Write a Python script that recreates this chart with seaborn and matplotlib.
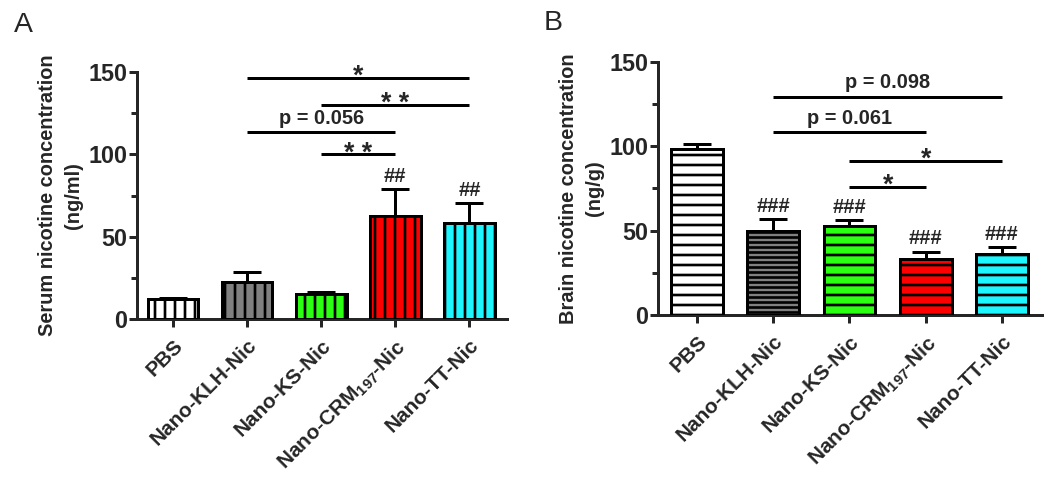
import numpy as np
import pandas as pd
import matplotlib
matplotlib.use("Agg")
import matplotlib.pyplot as plt
import seaborn as sns

sns.set_style("ticks")
plt.rcParams['font.family'] = ['Liberation Sans', 'DejaVu Sans']
plt.rcParams['mathtext.fontset'] = 'custom'
plt.rcParams['mathtext.rm'] = 'Liberation Sans'
plt.rcParams['mathtext.bf'] = 'Liberation Sans:bold'
plt.rcParams['hatch.color'] = 'black'
plt.rcParams['hatch.linewidth'] = 1.6

# ---------------- data ----------------
groups = ["PBS", "Nano-KLH-Nic", "Nano-KS-Nic", "Nano-CRM$_{\\mathbf{197}}$-Nic", "Nano-TT-Nic"]
colors = ["#ffffff", "#808080", "#2bff12", "#ff0000", "#1ef6ff"]

serum_mean = [12.5, 22.3, 15.0, 62.5, 58.5]
serum_err = [0.6, 6.0, 1.2, 16.6, 11.7]
serum_hash = ["", "", "", "##", "##"]
# (start index, end index, height, label)
serum_sig = [(1, 4, 146.5, "*"), (2, 4, 130, "* *"), (1, 3, 113.7, "p = 0.056"), (2, 3, 100, "* *")]

brain_mean = [98.3, 49.7, 52.9, 33.2, 35.9]
brain_err = [2.8, 7.1, 3.3, 4.3, 4.1]
brain_hash = ["", "###", "###", "###", "###"]
brain_sig = [(1, 4, 129.3, "p = 0.098"), (1, 3, 108.5, "p = 0.061"), (2, 4, 91.4, "*"), (2, 3, 76, "*")]

yticks = [0, 50, 100, 150]

DPI = 120
fig = plt.figure(figsize=(1050 / DPI, 477 / DPI), dpi=DPI)
axA = fig.add_axes([0.1305, 0.331, 0.3525, 0.518])
axB = fig.add_axes([0.6267, 0.3396, 0.3653, 0.531])


def panel(ax, means, errs, hashes, sigs, ylabel, hatches, xlim):
    df = pd.DataFrame({"group": groups, "value": means})
    sns.barplot(data=df, x="group", y="value", hue="group", palette=colors,
                legend=False, errorbar=None, width=0.68, ax=ax,
                edgecolor="black", linewidth=1.8, saturation=1, zorder=3)
    centers = []
    for cont, h in zip(ax.containers, hatches):
        for p in cont.patches:
            p.set_hatch(h)
            centers.append(p.get_x() + p.get_width() / 2)
    ax.errorbar(centers, means, yerr=[np.zeros(len(means)), errs], fmt="none",
                ecolor="black", elinewidth=1.8, capsize=8.5, capthick=1.8, zorder=2)
    for c, m, e, h in zip(centers, means, errs, hashes):
        if h:
            ax.text(c, m + e + 2, h, ha="center", va="bottom", fontsize=12,
                    fontweight="bold")
    for i, j, y, lab in sigs:
        ax.plot([centers[i], centers[j]], [y, y], color="black", lw=1.8,
                clip_on=False, solid_capstyle="butt")
        star = "*" in lab
        ax.text((centers[i] + centers[j]) / 2, y + (-3.8 if star else 2.5), lab,
                ha="center", va="baseline" if star else "bottom",
                fontsize=16 if star else 12, fontweight="bold")
    ax.set_ylim(0, 150)
    ax.set_xlim(*xlim)
    ax.set_yticks(yticks)
    ax.set_yticks([25, 75, 125], minor=True)
    ax.set_yticklabels([str(t) for t in yticks], fontsize=14, fontweight="bold")
    ax.set_xticks(range(len(groups)))
    ax.set_xticklabels(groups, rotation=45, ha="right", rotation_mode="anchor",
                       fontsize=12.5, fontweight="bold")
    ax.set_xlabel("")
    ax.set_ylabel(ylabel, fontsize=12, fontweight="bold", labelpad=3, linespacing=1.45)
    for s in ["top", "right"]:
        ax.spines[s].set_visible(False)
    for s in ["left", "bottom"]:
        ax.spines[s].set_linewidth(1.8)
    ax.tick_params(axis="both", which="major", direction="out", width=1.8, length=5)
    ax.tick_params(axis="y", which="major", pad=1)
    ax.tick_params(axis="y", which="minor", direction="out", width=1.8, length=3.5)
    ax.tick_params(axis="x", which="major", pad=5)


panel(axA, serum_mean, serum_err, serum_hash, serum_sig,
      "Serum nicotine concentration\n(ng/ml)", ["||", "||", "||", "||", "||"], (-0.49, 4.51))
panel(axB, brain_mean, brain_err, brain_hash, brain_sig,
      "Brain nicotine concentration\n(ng/g)", ["--", "----", "--", "--", "--"], (-0.51, 4.52))

fig.text(0.013, 0.975, "A", fontsize=17, va="top", ha="left")
fig.text(0.518, 0.98, "B", fontsize=17, va="top", ha="left")

fig.savefig("out.png", dpi=DPI)
